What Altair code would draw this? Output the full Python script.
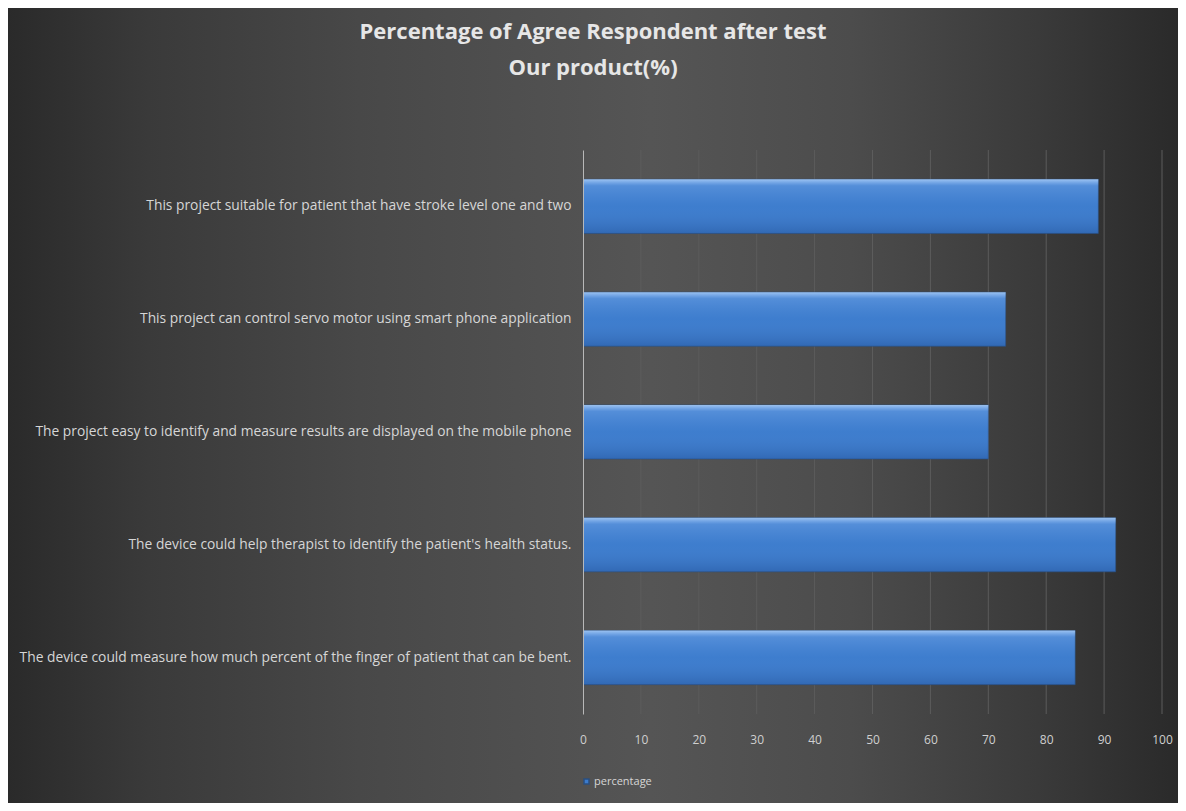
import altair as alt
import pandas as pd

categories = [
    "This project suitable for patient that have stroke level one and two",
    "This project can control servo motor using smart phone application",
    "The project easy to identify and measure results are displayed on the mobile phone",
    "The device could help therapist to identify the patient's health status.",
    "The device could measure  how much percent of the finger of patient that can be bent.",
]
values = [89, 73, 70, 92, 85]
series = ["percentage"] * len(categories)
tick_values = [0, 10, 20, 30, 40, 50, 60, 70, 80, 90, 100]

df = pd.DataFrame({"item": categories, "value": values, "series": series})
grid_df = pd.DataFrame({"tick": tick_values[1:]})

W, H = 579, 564

# full-chart backdrop with the horizontal gradient of the original
backdrop = alt.Chart(pd.DataFrame({"d": [0]})).mark_rect(
    color=alt.LinearGradient(
        gradient="linear",
        x1=0, y1=0, x2=1, y2=0,
        stops=[
            alt.GradientStop(color="#2a2a2a", offset=0),
            alt.GradientStop(color="#3a3a3a", offset=0.12),
            alt.GradientStop(color="#484848", offset=0.3),
            alt.GradientStop(color="#555555", offset=0.55),
            alt.GradientStop(color="#4c4c4c", offset=0.72),
            alt.GradientStop(color="#3a3a3a", offset=0.88),
            alt.GradientStop(color="#2a2a2a", offset=1),
        ],
    )
).encode(
    x=alt.value(-575), x2=alt.value(W + 16),
    y=alt.value(-142), y2=alt.value(H + 89),
)

xscale = alt.Scale(domain=[0, 100], nice=False)

grid = alt.Chart(grid_df).mark_rule(color="#5c5c5c", strokeWidth=1).encode(
    x=alt.X("tick:Q", scale=xscale),
)

y_enc = alt.Y(
    "item:N",
    sort=categories,
    title=None,
    scale=alt.Scale(paddingInner=0.52, paddingOuter=0.26),
    axis=alt.Axis(
        labelLimit=1000,
        labelFont="Open Sans",
        labelFontSize=13.8,
        labelColor="#d6d6d6",
        labelPadding=12,
        ticks=False,
        domain=True,
        domainColor="#b8b8b8",
        domainWidth=1,
        grid=False,
        zindex=1,
    ),
)
x_enc = alt.X(
    "value:Q",
    title=None,
    scale=xscale,
    axis=alt.Axis(
        values=tick_values,
        labelFont="Open Sans",
        labelFontSize=12,
        labelColor="#cfcfcf",
        labelPadding=20,
        labelFlush=False,
        ticks=False,
        domain=False,
        grid=False,
        zindex=1,
    ),
)

bars = alt.Chart(df).mark_bar(
    stroke="#2a4f80", strokeWidth=0.6
).encode(
    y=y_enc,
    x=x_enc,
    color=alt.Color(
        "series:N",
        title=None,
        scale=alt.Scale(range=["#3b7bcc"]),
        legend=alt.Legend(
            orient="none",
            legendX=-2,
            legendY=626,
            symbolType="square",
            symbolSize=25,
            labelFont="Open Sans",
            labelFontSize=11,
            labelColor="#d6d6d6",
            labelOffset=2,
            zindex=1,
        ),
    ),
)

shine = alt.Chart(df).mark_bar(
    color=alt.LinearGradient(
        gradient="linear",
        x1=0, y1=0, x2=0, y2=1,
        stops=[
            alt.GradientStop(color="rgba(190,220,255,0.75)", offset=0),
            alt.GradientStop(color="rgba(160,200,255,0.25)", offset=0.12),
            alt.GradientStop(color="rgba(120,170,240,0.05)", offset=0.5),
            alt.GradientStop(color="rgba(20,50,110,0.25)", offset=1),
        ],
    )
).encode(y=alt.Y("item:N", sort=categories), x=alt.X("value:Q"))

chart = alt.layer(backdrop, grid, bars, shine).properties(
    width=W,
    height=H,
    padding=0,
    background="#3a3a3a",
    title=alt.TitleParams(
        text=["Percentage of Agree Respondent after test", "Our product(%)"],
        font="Open Sans",
        fontSize=22,
        fontWeight="bold",
        color="#e6e6e6",
        lineHeight=36,
        anchor="middle",
        frame="bounds",
        offset=-72,
        zindex=1,
    ),
).configure_view(stroke=None)

chart.save("out.html", embed_options={"renderer": "svg", "actions": False})
